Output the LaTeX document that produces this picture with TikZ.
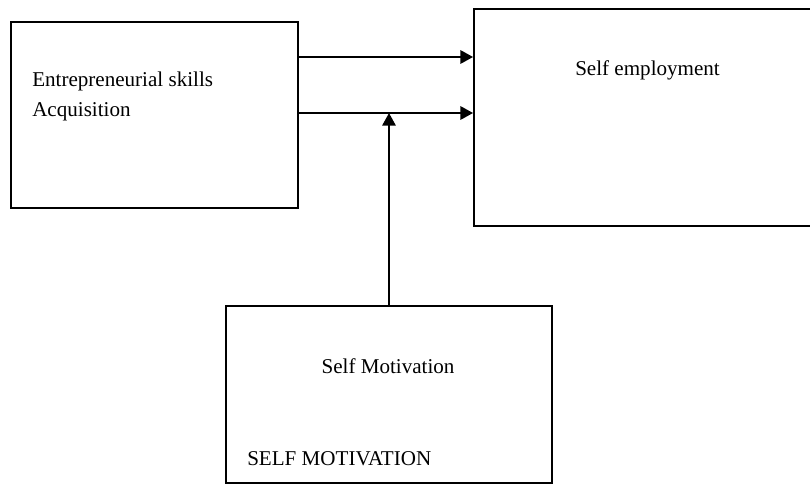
\documentclass[tikz,border=0pt]{standalone}
\usepackage{fontspec}
\setmainfont{Liberation Serif}
\usepackage{tikz}
\usetikzlibrary{arrows.meta}
\tikzset{%
  box/.style={rectangle,draw,line width=1.4pt,inner sep=0pt},
  txt/.style={anchor=base west,inner sep=0pt,font=\fontsize{15.8}{22.5}\selectfont},
  flow/.style={line width=1.6pt,-{Triangle[length=9.5pt,width=10pt]}}
}
\begin{document}
\begin{tikzpicture}[x=0.75pt,y=-0.75pt]
      \useasboundingbox (0,0) rectangle (810,485);
      \node [box,minimum width=215.25pt,minimum height=139.5pt] (skills) at (154.5,115) {};
      \node [box,minimum width=319.5pt,minimum height=162.75pt] (selfemp) at (687,117.5) {};
      \node [box,minimum width=244.5pt,minimum height=132.75pt] (motiv) at (389,394.5) {};

      \node [txt] (skillsa) at (32,87)  {Entrepreneurial skills};
      \node [txt] (skillsb) at (32,117) {Acquisition};
      \node [txt] (selfempt) at (575,75) {Self employment};
      \node [txt,anchor=base] (motivt) at (388,373) {Self Motivation};
      \node [txt] (motivcap) at (247,465) {SELF MOTIVATION};

      \coordinate (upper) at (0,57);
      \coordinate (lower) at (0,113);
      \draw [flow] (skills.east |- upper) -- (selfemp.west |- upper);
      \draw [flow] (skills.east |- lower) -- (selfemp.west |- lower);
      \draw [flow] (motiv.north) -- (motiv.north |- lower);
    \end{tikzpicture}
\end{document}
